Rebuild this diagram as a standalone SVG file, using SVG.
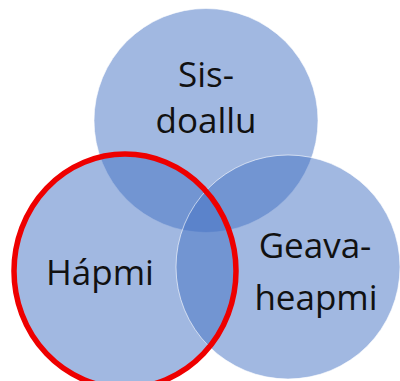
<svg xmlns="http://www.w3.org/2000/svg" width="400" height="381" viewBox="0 0 400 381">
<style>
.c{fill:#4472C4;fill-opacity:0.5;stroke:#ffffff;stroke-opacity:0.6;stroke-width:1}
.t{font-family:"Open Sans","Liberation Sans",sans-serif;font-size:35px;fill:#111111;text-anchor:middle}
.hl{fill:none;stroke:#ee0000;stroke-width:5.5}
</style>
<rect width="400" height="381" fill="#ffffff"/>
<g id="sisdoallu">
<circle class="c" cx="206" cy="120.5" r="112"/>
</g>
<g id="hapmi">
<ellipse class="c" cx="125" cy="271" rx="111" ry="117"/>
</g>
<g id="geavaheapmi">
<circle class="c" cx="288" cy="267" r="112"/>
</g>
<g id="labels">
<text class="t" x="206" y="87">Sis-</text>
<text class="t" x="206" y="133">doallu</text>
<text class="t" x="100" y="285">Hápmi</text>
<text class="t" x="315" y="258">Geava-</text>
<text class="t" x="316" y="310">heapmi</text>
</g>
<g id="highlight">
<ellipse class="hl" cx="125" cy="271" rx="111" ry="117"/>
</g>
</svg>
